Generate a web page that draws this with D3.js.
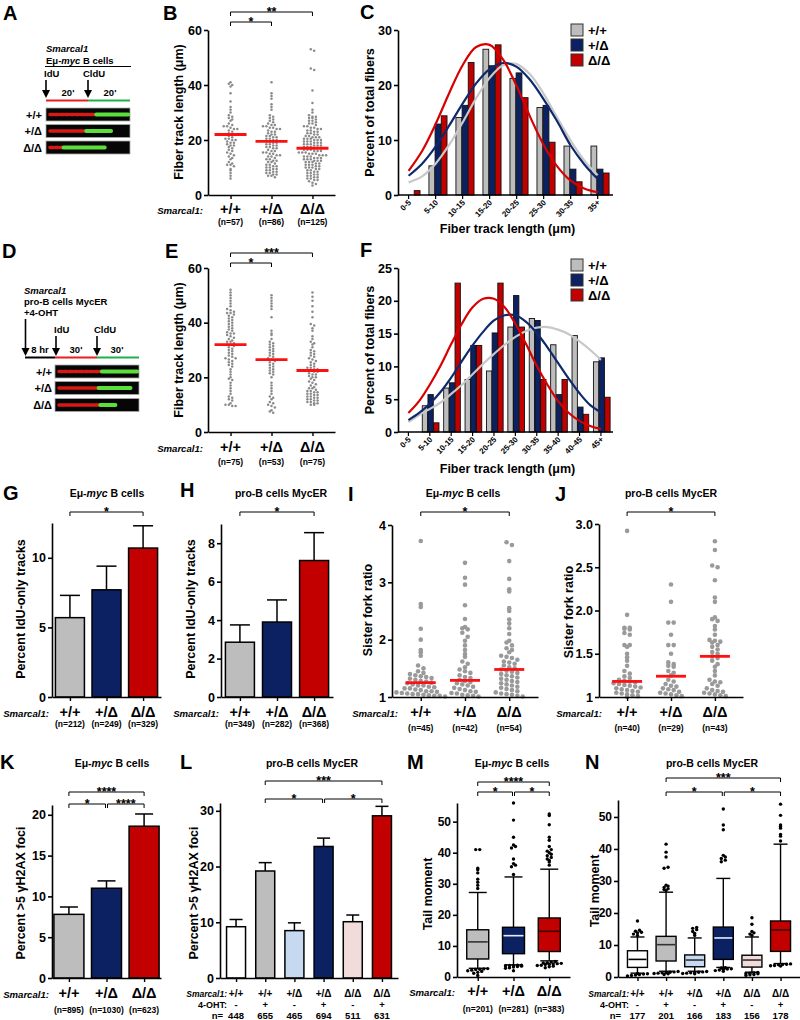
<!DOCTYPE html>
<html><head><meta charset="utf-8">
<script src="https://cdnjs.cloudflare.com/ajax/libs/d3/7.8.5/d3.min.js"></script>
<style>body{margin:0;background:#fff}</style>
</head><body><script>
// ================= DATA =================
const genotypes = ["+/+", "+/Δ", "Δ/Δ"];

// Panel A / D (fiber images: fraction of strip labelled red / green)
const aLabels = ["+/+", "+/Δ", "Δ/Δ"];
const aRedEnd = [0.58, 0.46, 0.19];
const aGreenEnd = [0.98, 0.78, 0.70];
const dLabels = ["+/+", "+/Δ", "Δ/Δ"];
const dRedEnd = [0.54, 0.50, 0.52];
const dGreenEnd = [0.98, 0.90, 0.72];

// Panel B
const bWT = [41,40.5,40,39.5,37,34,32,31,30,29,28.5,28,27.5,27,26,25.5,25,25,24.5,24,23.5,23,22.5,22,21.5,21,20.5,20.5,20,20,19.5,19,19,18.5,18,18,17.5,17,16.5,16,15.5,15,14.5,14,13.5,13,12,11.5,11,11,10.5,9.5,9,8,7,6,24];
const bHet = [41,37,36,35,33,32,31,29,28.5,28,27.5,27,26.5,26,25.5,25.5,25,25,24.5,24.5,24,24,23.5,23,23,22.5,22,22,21.5,21.5,21,21,20.5,20.5,20,20,19.5,19.5,19,19,18.5,18.5,18,18,17.5,17.5,17,17,16.5,16,16,15.5,15.5,15,15,14.5,14.5,14,14,13.5,13,13,12.5,12.5,12,12,11.5,11,11,10.5,10.5,10,10,9.5,9.5,9,9,8.5,8.5,8,8,7.5,7.5,7,7,6.5];
const bKO = [53,52.5,46,45.5,38,33.5,31,30,29,28.5,28.5,28,28,27.5,27,27,26.5,26,26,25.5,25,25,24.5,24.5,24,24,23.5,23.5,23,23,22.5,22.5,22,22,21.5,21.5,21,21,21,20.5,20.5,20.5,20,20,20,19.5,19.5,19.5,19,19,19,18.5,18.5,18.5,18,18,18,17.5,17.5,17.5,17,17,17,16.5,16.5,16.5,16,16,16,15.5,15.5,15.5,15,15,15,14.5,14.5,14.5,14,14,14,13.5,13.5,13.5,13,13,13,12.5,12.5,12.5,12,12,12,11.5,11.5,11,11,11,10.5,10.5,10,10,10,9.5,9.5,9,9,8.5,8.5,8,8,7.5,7.5,7,7,6.5,6.5,6,6,5.5,5.5,5,4.5,4,3.5];
const bMed = [22, 19.5, 17];
const bN = ["(n=57)", "(n=86)", "(n=125)"];
const bTicks = [0, 20, 40, 60];

// Panel C
const cBins = ["0-5","5-10","10-15","15-20","20-25","25-30","30-35","35+"];
const cWT  = [0, 5.3, 14.1, 26.5, 21.2, 15.9, 8.9, 8.9];
const cHet = [0, 12.9, 16.3, 23.5, 22.2, 16.3, 4.7, 4.7];
const cKO  = [0.8, 14.4, 24.1, 27.3, 17.7, 9.6, 2.4, 4.0];
const cFitX = [0,0.5,1,1.5,2,2.5,3,3.5,4,4.5,5,5.5,6,6.5,7];
const cFitWT  = [2.3,3.4,5.7,9.1,13.2,17.6,21.3,23.6,23.8,21.9,18.4,14.1,9.9,6.3,3.6];
const cFitHet = [3.5,5.7,8.8,12.6,16.6,20.3,22.9,24.0,23.3,20.9,17.4,13.4,9.0,5.6,2.9];
const cFitKO  = [4.4,8.0,12.9,18.5,23.6,26.9,27.3,24.6,19.8,14.2,9.1,5.2,2.6,1.2,0.5];
const cTicks = [0, 10, 20, 30];

// Panel E
const eWT = [52,51,50,49,48,47,46,45,44.5,44,43.5,43.5,43,42.5,42,41.5,41,40.5,40,39.5,39,38.5,38,37.5,37,36.5,36,35.5,35,34.5,34,33.5,33,33,32.5,32,32,31.5,31,30.5,30,29.5,29,28.5,28,27.5,27,26.5,26,25.5,25,24.5,24,23,22,21,20,19.5,19,18,17,16,15,14,13,12.5,12,11.5,10.5,10,10,9.5,9.5,27,36];
const eHet = [50,49,48,47,46,45,42,37,36,35.5,34,33,32.5,32,31.5,31,30.5,30,29.5,29,28.5,28,27.5,27,26.5,26,25.5,25,24.5,24,23.5,23,22.5,22,21.5,21,20,18,17,16,15,14,13,12.5,12,11,10.5,10,9.5,9,8,7.5,7];
const eKO = [51,49.5,48,46,44,42,39.5,39,38,37,35,34,33,32.5,32,31,30,29.5,29,28.5,28,27.5,27,26.5,26,25.5,25,24.5,24,23.5,23.5,23,23,22.5,22.5,22,22,21.5,21,21,20.5,20,20,19.5,19,18.5,18,17.5,17,16.5,16,16,15.5,15,15,14.5,14.5,14,14,13.5,13.5,13,13,12.5,12.5,12,12,11.5,11.5,11,11,10.5,10.5,10,10];
const eMed = [32, 26.5, 22.5];
const eN = ["(n=75)", "(n=53)", "(n=75)"];
const eTicks = [0, 20, 40, 60];

// Panel F
const fBins = ["0-5","5-10","10-15","15-20","20-25","25-30","30-35","35-40","40-45","45+"];
const fWT  = [0, 4.0, 6.7, 8.0, 9.3, 16.0, 17.3, 13.3, 14.7, 10.7];
const fHet = [0, 5.7, 7.5, 13.2, 15.1, 20.8, 17.0, 5.7, 3.8, 11.3];
const fKO  = [0, 1.4, 22.7, 13.2, 22.7, 16.0, 8.0, 8.0, 2.7, 5.3];
const fFitX = [0,0.5,1,1.5,2,2.5,3,3.5,4,4.5,5,5.5,6,6.5,7,7.5,8,8.5,9];
const fFitWT  = [1.5,2.6,3.5,4.5,5.8,7.2,8.8,10.4,11.9,13.3,14.5,15.4,15.9,16.0,15.6,14.9,13.8,12.5,11.0];
const fFitHet = [1.8,2.9,4.3,6.1,8.3,10.8,13.2,15.3,17.0,17.8,17.8,16.8,15.1,12.9,10.5,8.1,5.9,4.1,3.0];
const fFitKO  = [2.9,4.7,7.2,10.1,13.4,16.5,19.0,20.3,20.3,19.0,16.5,13.4,10.1,7.2,4.7,2.9,1.7,0.9,0.45];
const fTicks = [0, 5, 10, 15, 20, 25];

// Panel G
const gVal = [5.7, 7.7, 10.7];
const gErr = [1.6, 1.7, 1.6];
const gN = ["(n=212)", "(n=249)", "(n=329)"];
const gTicks = [0, 5, 10];

// Panel H
const hVal = [2.85, 3.9, 7.1];
const hErr = [0.9, 1.15, 1.45];
const hN = ["(n=349)", "(n=282)", "(n=368)"];
const hTicks = [0, 2, 4, 6, 8];

// Panel I
const iWT = [3.72,2.62,2.57,2.19,2.0,1.82,1.78,1.72,1.55,1.5,1.45,1.42,1.4,1.38,1.36,1.35,1.33,1.32,1.3,1.28,1.27,1.25,1.24,1.22,1.2,1.2,1.18,1.17,1.15,1.15,1.13,1.12,1.1,1.1,1.09,1.08,1.07,1.06,1.05,1.05,1.04,1.03,1.02,1.02,1.01];
const iHet = [3.34,3.08,2.96,2.6,2.36,2.22,2.2,2.18,2.12,2.05,1.98,1.9,1.82,1.75,1.7,1.62,1.58,1.52,1.48,1.45,1.42,1.38,1.35,1.33,1.3,1.28,1.26,1.24,1.22,1.2,1.18,1.16,1.14,1.12,1.1,1.09,1.07,1.06,1.04,1.03,1.02,1.01];
const iKO = [3.7,3.65,3.37,3.06,2.88,2.84,2.55,2.5,2.35,2.28,2.2,2.1,1.98,1.95,1.9,1.85,1.82,1.78,1.72,1.7,1.68,1.65,1.62,1.6,1.58,1.55,1.52,1.5,1.48,1.46,1.44,1.42,1.4,1.38,1.36,1.34,1.32,1.3,1.28,1.26,1.24,1.22,1.2,1.18,1.16,1.14,1.12,1.1,1.08,1.06,1.05,1.04,1.02,1.01];
const iMed = [1.25, 1.29, 1.48];
const iN = ["(n=45)", "(n=42)", "(n=54)"];
const iTicks = [1, 2, 3, 4];

// Panel J
const jWT = [2.92,1.95,1.8,1.8,1.79,1.78,1.74,1.72,1.6,1.6,1.58,1.5,1.46,1.42,1.36,1.3,1.27,1.24,1.22,1.2,1.19,1.18,1.17,1.16,1.15,1.14,1.13,1.12,1.11,1.1,1.09,1.08,1.07,1.06,1.05,1.04,1.03,1.02,1.01,1.0];
const jHet = [2.3,2.1,1.86,1.86,1.72,1.6,1.6,1.5,1.4,1.38,1.36,1.35,1.3,1.28,1.25,1.2,1.18,1.15,1.13,1.12,1.1,1.09,1.08,1.06,1.05,1.04,1.03,1.02,1.01];
const jKO = [2.8,2.7,2.52,2.5,2.35,2.15,2.1,1.92,1.9,1.88,1.82,1.78,1.72,1.66,1.65,1.64,1.63,1.6,1.58,1.55,1.52,1.5,1.47,1.45,1.42,1.38,1.35,1.3,1.25,1.2,1.18,1.17,1.15,1.13,1.1,1.08,1.07,1.06,1.05,1.04,1.03,1.02,1.01];
const jMed = [1.18, 1.24, 1.47];
const jN = ["(n=40)", "(n=29)", "(n=43)"];
const jTicks = [1, 1.5, 2, 2.5, 3];

// Panel K
const kVal = [7.8, 11.0, 18.6];
const kErr = [0.9, 0.9, 1.5];
const kN = ["(n=895)", "(n=1030)", "(n=623)"];
const kTicks = [0, 5, 10, 15, 20];

// Panel L
const lGeno = ["+/+", "+/+", "+/Δ", "+/Δ", "Δ/Δ", "Δ/Δ"];
const lOHT = ["-", "+", "-", "+", "-", "+"];
const lVal = [9.2, 19.2, 8.5, 23.6, 10.1, 29.1];
const lErr = [1.3, 1.5, 1.4, 1.5, 1.2, 1.7];
const lN = ["448", "655", "465", "694", "511", "631"];
const lTicks = [0, 10, 20, 30];

// Panel M (box plots)
const mLo  = [2.8, 3.9, 5.2];
const mQ1  = [5.8, 7.5, 8.2];
const mMed = [11.3, 13.3, 14.7];
const mQ3  = [15.2, 16.0, 19.0];
const mHi  = [27.2, 32.2, 34.7];
const mOutHigh = [[28.5,29.5,30.5,31.5,33.5,34.5,35,41,41],
                  [33,35.5,36,36.5,38,41.5,42,42.5,45,50.5,56],
                  [36,37,37.5,38,38.5,39,39.5,40,40.5,41,42,44,45,49,52,52.5]];
const mOutLow = [[0.5,1.2,1.5,1.8,2,2.2,2.4,2.5,2.6,2.7],
                 [2,2.8,3,3.2,3.4,3.5,3.6,3.7,3.7,3.8,3.8],
                 [3,3.3,3.5,3.7,3.8,4,4.1,4.2,4.3,4.4,4.5,4.6,4.8,5]];
const mN = ["(n=201)", "(n=281)", "(n=383)"];
const mTicks = [0, 10, 20, 30, 40, 50];

// Panel N
const nGeno = ["+/+", "+/+", "+/Δ", "+/Δ", "Δ/Δ", "Δ/Δ"];
const nOHT = ["-", "+", "-", "+", "-", "+"];
const nLo  = [1.2, 1.8, 1.8, 3.0, 1.5, 4.2];
const nQ1  = [3.0, 5.0, 3.2, 5.5, 3.1, 8.0];
const nMed = [5.5, 10.1, 5.3, 12.2, 5.3, 14.7];
const nQ3  = [8.2, 12.7, 6.9, 15.6, 6.8, 17.5];
const nHi  = [12.5, 26.5, 12.2, 30.8, 12.5, 41.5];
const nOutHigh = [[13,13.4,13.8,14,14.3,14.6,17.5],
                  [27,27.3,27.6,28,28.4,28.7,34,34.3,37.5,39,41.5],
                  [13,13.6,14.2,14.8,15.2,15.5],
                  [36,36.5,37,37.5,38,46,47.5,52.5],
                  [13,13.4,13.8,14.2,16.5,18.5],
                  [42.5,44,44.5,46.5,47,47.5,50.5,54]];
const nOutLow = [[0.3,0.5,0.6,0.8,0.9,1,1.1],
                 [0.8,1,1.1,1.2,1.3,1.4,1.5,1.6,1.7],
                 [1,1.1,1.2,1.3,1.4,1.5,1.6,1.7],
                 [1.8,2,2.2,2.4,2.5,2.6,2.8,2.9],
                 [0.5,0.7,0.8,1,1.1,1.2,1.3,1.4],
                 [3.4,3.5,3.6,3.8,3.9,4,4.1]];
const nN = ["177", "201", "166", "183", "156", "178"];
const nTicks = [0, 10, 20, 30, 40, 50];

// ================= STYLE =================
const FONT = "'Liberation Sans', Arial, Helvetica, sans-serif";
const GRAY = "#bdbdbd", NAVY = "#0b2161", RED = "#c30000";
const three = [GRAY, NAVY, RED];
const curveCols = ["#c8c8c8", "#0e2a6c", "#d80000"];
const six = ["#ffffff", GRAY, "#c6d9f0", NAVY, "#f2dcdb", RED];
const sixMed = ["#000", "#333", "#333", "#e8eef8", "#333", "#3a0000"];

const svg = d3.select("body").append("svg").attr("width", 800).attr("height", 1020)
  .style("font-family", FONT).style("background", "#fff");

// ================= HELPERS =================
function txt(x, y, s, o = {}) {
  const t = svg.append("text").attr("x", x).attr("y", y).text(s)
    .attr("font-size", o.size || 12).attr("font-weight", o.weight || "bold")
    .attr("text-anchor", o.anchor || "start").attr("fill", o.fill || "#000");
  if (o.italic) t.attr("font-style", "italic");
  return t;
}
function letter(x, y, s) { txt(x, y, s, { size: 20 }); }
function ylabel(cx, cy, s, size = 12.5) {
  svg.append("text").attr("transform", `translate(${cx},${cy}) rotate(-90)`)
    .attr("text-anchor", "middle").attr("dy", "0.36em").attr("font-weight", "bold")
    .attr("font-size", size).text(s);
}
function title(cx, y, kind) {
  const t = svg.append("text").attr("x", cx).attr("y", y).attr("text-anchor", "middle")
    .attr("font-size", 10.5).attr("font-weight", "bold");
  if (kind === "myc") {
    t.append("tspan").text("Eμ-");
    t.append("tspan").attr("font-style", "italic").text("myc");
    t.append("tspan").text(" B cells");
  } else t.text("pro-B cells MycER");
}
function yAxis(scale, x, ticks, fmt, size = 12.5) {
  const g = svg.append("g").attr("transform", `translate(${x},0)`)
    .call(d3.axisLeft(scale).tickValues(ticks).tickFormat(fmt || d3.format("d"))
      .tickSize(4).tickSizeOuter(0).tickPadding(2));
  g.select(".domain").attr("stroke", "#000").attr("stroke-width", 1.6);
  g.selectAll(".tick line").attr("stroke", "#000").attr("stroke-width", 1.6);
  g.selectAll(".tick text").attr("font-size", size).attr("font-weight", "bold")
    .attr("font-family", FONT).attr("fill", "#000");
  return g;
}
function xAxis(scale, y) {
  const g = svg.append("g").attr("transform", `translate(0,${y})`)
    .call(d3.axisBottom(scale).tickSize(4).tickSizeOuter(0).tickFormat(""));
  g.select(".domain").attr("stroke", "#000").attr("stroke-width", 1.6);
  g.selectAll(".tick line").attr("stroke", "#000").attr("stroke-width", 1.4);
  return g;
}
function bracket(x1, x2, y, label, drop = 4) {
  svg.append("path").attr("d", `M${x1},${y + drop}V${y}H${x2}V${y + drop}`)
    .attr("fill", "none").attr("stroke", "#000").attr("stroke-width", 1);
  txt((x1 + x2) / 2, y + 4, label, { size: 12.5, anchor: "middle" });
}
function genoRow(xs, cats, labX, y, size, labelSize) {
  txt(labX, y, "Smarcal1:", { size: labelSize || 9.6, italic: true, anchor: "end" });
  cats.forEach((c, i) => txt(xs(i), y + 0.5, c, { size: size, anchor: "middle" }));
}
function nRow(xs, ns, y, size = 8.5) {
  ns.forEach((c, i) => txt(xs(i), y, c, { size: size, anchor: "middle" }));
}
// dot-plot (swarm) layout: values grouped into pixel rows, spread horizontally
function swarm(values, cx, yScale, r, gap, rowH) {
  const d = 2 * r + gap;
  const rows = d3.group(values, v => Math.round(yScale(v) / rowH));
  const pts = [];
  rows.forEach(arr => {
    arr.forEach((v, i) => pts.push({ x: cx + (i - (arr.length - 1) / 2) * d, y: yScale(v) }));
  });
  return pts;
}
function dotPanel(groups, meds, xs, ys, r, gap, rowH, col, medHalf) {
  groups.forEach((vals, i) => {
    const pts = swarm(vals, xs(i), ys, r, gap, rowH);
    svg.append("g").selectAll("circle").data(pts).join("circle")
      .attr("cx", d => d.x).attr("cy", d => d.y).attr("r", r).attr("fill", col);
    svg.append("line").attr("x1", xs(i) - medHalf).attr("x2", xs(i) + medHalf)
      .attr("y1", ys(meds[i])).attr("y2", ys(meds[i]))
      .attr("stroke", "#ff1010").attr("stroke-width", 2.8);
  });
}
function barPanel(vals, errs, cols, xs, ys, w, capHalf) {
  vals.forEach((v, i) => {
    const cx = xs(i);
    svg.append("line").attr("x1", cx).attr("x2", cx).attr("y1", ys(v)).attr("y2", ys(v + errs[i]))
      .attr("stroke", "#000").attr("stroke-width", 1.5);
    svg.append("line").attr("x1", cx - capHalf).attr("x2", cx + capHalf)
      .attr("y1", ys(v + errs[i])).attr("y2", ys(v + errs[i]))
      .attr("stroke", "#000").attr("stroke-width", 1.5);
    svg.append("rect").attr("x", cx - w / 2).attr("y", ys(v)).attr("width", w)
      .attr("height", ys(0) - ys(v)).attr("fill", cols[i]).attr("stroke", "#000").attr("stroke-width", 1.5);
  });
}
function boxPanel(lo, q1, med, q3, hi, outH, outL, cols, medCols, xs, ys, w, capHalf) {
  lo.forEach((_, i) => {
    const cx = xs(i);
    const g = svg.append("g");
    g.append("line").attr("x1", cx).attr("x2", cx).attr("y1", ys(hi[i])).attr("y2", ys(lo[i]))
      .attr("stroke", "#000").attr("stroke-width", 1.4);
    [hi[i], lo[i]].forEach(v => g.append("line").attr("x1", cx - capHalf).attr("x2", cx + capHalf)
      .attr("y1", ys(v)).attr("y2", ys(v)).attr("stroke", "#000").attr("stroke-width", 1.4));
    g.append("rect").attr("x", cx - w / 2).attr("y", ys(q3[i])).attr("width", w)
      .attr("height", ys(q1[i]) - ys(q3[i])).attr("fill", cols[i]).attr("stroke", "#000").attr("stroke-width", 1.4);
    g.append("line").attr("x1", cx - w / 2 + 1).attr("x2", cx + w / 2 - 1)
      .attr("y1", ys(med[i])).attr("y2", ys(med[i])).attr("stroke", medCols[i]).attr("stroke-width", 1.6);
    const pts = swarm(outH[i].concat(outL[i]), cx, ys, 1.7, 0.6, 2.6);
    g.selectAll("circle").data(pts).join("circle").attr("cx", d => d.x).attr("cy", d => d.y)
      .attr("r", 1.7).attr("fill", "#000");
  });
}
function histPanel(bins, series, fitX, fits, x0, xEnd, y0, y1, ymax, ticks, titleY, legY) {
  const ys = d3.scaleLinear().domain([0, ymax]).range([y0, y1]);
  const n = bins.length;
  const xb = d3.scaleBand().domain(bins).range([x0, xEnd]).paddingInner(n === 8 ? 0.33 : 0.22).paddingOuter(n === 8 ? 0.145 : 0.135);
  const sub = d3.scaleBand().domain([0, 1, 2]).range([0, xb.bandwidth()]).paddingInner(0.06);
  const tickOff = xb.bandwidth() * (n === 8 ? 0.37 : 0.45);
  series.forEach((vals, s) => {
    svg.append("g").selectAll("rect").data(vals.map((v, i) => ({ v, b: bins[i] })).filter(d => d.v > 0))
      .join("rect").attr("x", d => xb(d.b) + sub(s)).attr("width", sub.bandwidth())
      .attr("y", d => ys(d.v)).attr("height", d => y0 - ys(d.v))
      .attr("fill", three[s]).attr("stroke", "#111").attr("stroke-width", 0.9);
  });
  const xc = d3.scaleLinear().domain([0, n - 1]).range([xb(bins[0]) + tickOff, xb(bins[n - 1]) + tickOff]);
  const line = d3.line().x(d => xc(d[0])).y(d => ys(d[1])).curve(d3.curveCatmullRom);
  fits.forEach((f, s) => {
    svg.append("path").attr("d", line(fitX.map((x, i) => [x, f[i]]))).attr("fill", "none")
      .attr("stroke", curveCols[s]).attr("stroke-width", 2.2);
  });
  yAxis(ys, x0, ticks);
  svg.append("line").attr("x1", x0).attr("x2", xEnd).attr("y1", y0).attr("y2", y0)
    .attr("stroke", "#000").attr("stroke-width", 1.6);
  bins.forEach(b => {
    const tx = xb(b) + tickOff;
    svg.append("line").attr("x1", tx).attr("x2", tx).attr("y1", y0).attr("y2", y0 + 4)
      .attr("stroke", "#000").attr("stroke-width", 1.2);
    svg.append("text").attr("transform", `translate(${tx + 3},${y0 + 8}) rotate(-45)`)
      .attr("text-anchor", "end").attr("font-size", 8).attr("font-weight", "bold").text(b);
  });
  txt((x0 + xEnd) / 2 + 2, titleY, "Fiber track length (μm)", { size: 12.5, anchor: "middle" });
  ylabel(369, (y0 + y1) / 2, "Percent of total fibers");
  genotypes.forEach((gname, i) => {
    svg.append("rect").attr("x", 571).attr("y", legY + i * 15).attr("width", 12).attr("height", 12)
      .attr("fill", three[i]).attr("stroke", "#333").attr("stroke-width", 1);
    txt(588, legY + i * 15 + 11, gname, { size: 13 });
  });
}
function fiberPanel(labels, redEnd, greenEnd, x, w, ys, h, labX) {
  labels.forEach((l, i) => {
    const y = ys[i], cy = y + h / 2;
    svg.append("rect").attr("x", x).attr("y", y).attr("width", w).attr("height", h)
      .attr("fill", "#060606").attr("stroke", "#aaa").attr("stroke-width", 0.8);
    // speckled red then green fluorescent track
    svg.append("line").attr("x1", x + 4).attr("x2", x + w * redEnd[i]).attr("y1", cy).attr("y2", cy)
      .attr("stroke", "#d91a14").attr("stroke-width", 3.6).attr("stroke-linecap", "round")
      .attr("stroke-dasharray", "3.5 1.6");
    svg.append("line").attr("x1", x + w * redEnd[i] + 1.5).attr("x2", x + w * greenEnd[i]).attr("y1", cy).attr("y2", cy)
      .attr("stroke", "#5be03a").attr("stroke-width", 3.8).attr("stroke-linecap", "round")
      .attr("stroke-dasharray", "3 1.4");
    txt(labX, cy + 4, l, { size: 11, anchor: "end" });
  });
}
function arrow(x, yTop, yBot) {
  svg.append("line").attr("x1", x).attr("x2", x).attr("y1", yTop).attr("y2", yBot - 6)
    .attr("stroke", "#000").attr("stroke-width", 1.6);
  svg.append("path").attr("d", `M${x - 4},${yBot - 8}L${x + 4},${yBot - 8}L${x},${yBot}Z`).attr("fill", "#000");
}

// ================= PANEL A =================
letter(3, 20, "A");
txt(46, 52, "Smarcal1", { size: 9.5, italic: true });
(function () {
  const t = svg.append("text").attr("x", 46).attr("y", 63.5).attr("font-size", 9.5).attr("font-weight", "bold");
  t.append("tspan").text("Eμ-"); t.append("tspan").attr("font-style", "italic").text("myc");
  t.append("tspan").text(" B cells");
})();
svg.append("line").attr("x1", 45).attr("x2", 131).attr("y1", 66.5).attr("y2", 66.5).attr("stroke", "#000").attr("stroke-width", 1);
txt(44, 77, "IdU", { size: 9.5 }); txt(83, 77, "CldU", { size: 9.5 });
arrow(46, 80, 98); arrow(88, 80, 98);
txt(68, 96, "20'", { size: 9.5, anchor: "middle" }); txt(110, 96, "20'", { size: 9.5, anchor: "middle" });
svg.append("line").attr("x1", 46).attr("x2", 88).attr("y1", 100.5).attr("y2", 100.5).attr("stroke", "#ee1c1c").attr("stroke-width", 2);
svg.append("line").attr("x1", 88).attr("x2", 130).attr("y1", 100.5).attr("y2", 100.5).attr("stroke", "#20b04a").attr("stroke-width", 2);
fiberPanel(aLabels, aRedEnd, aGreenEnd, 46, 84, [108, 124.5, 141], 13, 42);

// ================= PANEL D =================
letter(2, 258, "D");
txt(24, 294, "Smarcal1", { size: 9.5, italic: true });
txt(24, 305, "pro-B cells MycER", { size: 9.5 });
txt(24, 316, "+4-OHT", { size: 9.5 });
arrow(25.5, 319, 356);
txt(54, 333, "IdU", { size: 9.5 }); txt(94, 333, "CldU", { size: 9.5 });
arrow(56, 336, 356); arrow(97, 336, 356);
txt(40, 353, "8 hr", { size: 9.5, anchor: "middle" });
txt(76, 353, "30'", { size: 9.5, anchor: "middle" }); txt(117, 353, "30'", { size: 9.5, anchor: "middle" });
svg.append("line").attr("x1", 25).attr("x2", 55).attr("y1", 357.5).attr("y2", 357.5).attr("stroke", "#000").attr("stroke-width", 2);
svg.append("line").attr("x1", 55).attr("x2", 97).attr("y1", 357.5).attr("y2", 357.5).attr("stroke", "#ee1c1c").attr("stroke-width", 2);
svg.append("line").attr("x1", 97).attr("x2", 139).attr("y1", 357.5).attr("y2", 357.5).attr("stroke", "#20b04a").attr("stroke-width", 2);
fiberPanel(dLabels, dRedEnd, dGreenEnd, 55, 84, [365, 381.5, 398.5], 13, 52);

// ================= PANEL B =================
letter(163, 20, "B");
{
  const ys = d3.scaleLinear().domain([0, 60]).range([195, 30]);
  const xs = d3.scalePoint().domain([0, 1, 2]).range([208, 335]).padding(0.55);
  dotPanel([bWT, bHet, bKO], bMed, xs, ys, 1.25, 0.9, 2.9, "#8a8a8a", 16);
  yAxis(ys, 208, bTicks); xAxis(xs, 195);
  bracket(xs(0), xs(2), 12, "**"); bracket(xs(0), xs(1), 22, "*");
  genoRow(xs, genotypes, 203, 213.5, 14.5);
  nRow(xs, bN, 225);
  ylabel(178, 112, "Fiber track length (μm)");
}

// ================= PANEL C =================
letter(360, 19, "C");
histPanel(cBins, [cWT, cHet, cKO], cFitX, [cFitWT, cFitHet, cFitKO], 398, 613, 195, 30, 30, cTicks, 233, 24);

// ================= PANEL E =================
letter(165, 258, "E");
{
  const ys = d3.scaleLinear().domain([0, 60]).range([432, 268]);
  const xs = d3.scalePoint().domain([0, 1, 2]).range([208, 335]).padding(0.55);
  dotPanel([eWT, eHet, eKO], eMed, xs, ys, 1.25, 0.9, 2.9, "#8a8a8a", 16);
  yAxis(ys, 208, eTicks); xAxis(xs, 432);
  bracket(xs(0), xs(2), 253, "***"); bracket(xs(0), xs(1), 263, "*");
  genoRow(xs, genotypes, 203, 451.5, 14.5);
  nRow(xs, eN, 465);
  ylabel(178, 350, "Fiber track length (μm)");
}

// ================= PANEL F =================
letter(360, 257, "F");
histPanel(fBins, [fWT, fHet, fKO], fFitX, [fFitWT, fFitHet, fFitKO], 398, 613, 432, 268, 25, fTicks, 473, 259);

// ================= PANEL G =================
letter(3, 500, "G");
title(107, 497, "myc");
{
  const ys = d3.scaleLinear().domain([0, 12.5]).range([697, 523]);
  const xs = d3.scalePoint().domain([0, 1, 2]).range([52, 161]).padding(0.49);
  barPanel(gVal, gErr, three, xs, ys, 29, 10);
  yAxis(ys, 52, gTicks); xAxis(xs, 697);
  bracket(xs(0), xs(2), 512, "*");
  genoRow(xs, genotypes, 49, 716.5, 14.5);
  nRow(xs, gN, 727);
  ylabel(20, 609, "Percent IdU-only tracks");
}

// ================= PANEL H =================
letter(180, 497, "H");
title(281, 497, "pro");
{
  const ys = d3.scaleLinear().domain([0, 9.0]).range([697, 524]);
  const xs = d3.scalePoint().domain([0, 1, 2]).range([221, 333]).padding(0.51);
  barPanel(hVal, hErr, three, xs, ys, 29, 10);
  yAxis(ys, 221, hTicks); xAxis(xs, 697);
  bracket(xs(0), xs(2), 512, "*");
  genoRow(xs, genotypes, 219, 716.5, 14.5);
  nRow(xs, hN, 727);
  ylabel(190, 609, "Percent IdU-only tracks");
}

// ================= PANEL I =================
letter(348, 501, "I");
title(463, 497, "myc");
{
  const ys = d3.scaleLinear().domain([1, 4]).range([697, 525]);
  const xs = d3.scalePoint().domain([0, 1, 2]).range([392, 538]).padding(0.65);
  dotPanel([iWT, iHet, iKO], iMed, xs, ys, 2.3, 0.8, 4.6, "#9a9a9a", 15);
  yAxis(ys, 392, iTicks); xAxis(xs, 697);
  bracket(xs(0), xs(2), 512, "*");
  genoRow(xs, genotypes, 398, 716.5, 14.5);
  nRow(xs, iN, 731);
  ylabel(367, 610, "Sister fork ratio");
}

// ================= PANEL J =================
letter(555, 501, "J");
title(671, 497, "pro");
{
  const ys = d3.scaleLinear().domain([1, 3]).range([697, 524]);
  const xs = d3.scalePoint().domain([0, 1, 2]).range([599, 743]).padding(0.64);
  dotPanel([jWT, jHet, jKO], jMed, xs, ys, 2.3, 0.8, 4.6, "#9a9a9a", 15);
  yAxis(ys, 599, jTicks, d => d === 1 ? "1" : d3.format(".1f")(d)); xAxis(xs, 697);
  bracket(xs(0), xs(2), 512, "*");
  genoRow(xs, genotypes, 602, 716.5, 14.5);
  nRow(xs, jN, 731);
  ylabel(568, 612, "Sister fork ratio");
}

// ================= PANEL K =================
letter(0, 769, "K");
title(112, 767, "myc");
{
  const ys = d3.scaleLinear().domain([0, 21.2]).range([978, 805]);
  const xs = d3.scalePoint().domain([0, 1, 2]).range([52, 161]).padding(0.45);
  barPanel(kVal, kErr, three, xs, ys, 30, 9);
  yAxis(ys, 52, kTicks); xAxis(xs, 978);
  bracket(xs(0), xs(2), 792, "****");
  bracket(xs(0), xs(1) - 1, 804, "*"); bracket(xs(1) + 1, xs(2), 804, "****");
  genoRow(xs, genotypes, 49, 997.5, 14.5);
  nRow(xs, kN, 1013);
  ylabel(20, 893, "Percent >5 γH2AX foci");
}

// ================= PANEL L =================
letter(180, 769, "L");
title(312, 767, "pro");
{
  const ys = d3.scaleLinear().domain([0, 31.4]).range([978, 803]);
  const xs = d3.scalePoint().domain(d3.range(6)).range([220, 398]).padding(0.55);
  barPanel(lVal, lErr, six, xs, ys, 19, 6.5);
  yAxis(ys, 220, lTicks); xAxis(xs, 978);
  bracket(xs(1), xs(5), 781, "***");
  bracket(xs(1), xs(3) - 1, 799, "*"); bracket(xs(3) + 1, xs(5), 799, "*");
  txt(227, 997, "Smarcal1:", { size: 8.5, italic: true, anchor: "end" });
  lGeno.forEach((c, i) => txt(xs(i), 997, c, { size: 10, anchor: "middle" }));
  txt(227, 1008, "4-OHT:", { size: 9, anchor: "end" });
  lOHT.forEach((c, i) => txt(xs(i), 1008, c, { size: 9.5, anchor: "middle" }));
  txt(223, 1019, "n=", { size: 9.5, anchor: "end" });
  lN.forEach((c, i) => txt(xs(i), 1019, c, { size: 9.5, anchor: "middle" }));
  ylabel(193, 893, "Percent >5 γH2AX foci");
}

// ================= PANEL M =================
letter(407, 769, "M");
title(512, 767, "myc");
{
  const ys = d3.scaleLinear().domain([0, 56]).range([977, 803]);
  const xs = d3.scalePoint().domain([0, 1, 2]).range([457, 570]).padding(0.58);
  boxPanel(mLo, mQ1, mMed, mQ3, mHi, mOutHigh, mOutLow, three, ["#333", "#e8eef8", "#3a0000"], xs, ys, 22, 9);
  yAxis(ys, 457, mTicks, null, 12); xAxis(xs, 977);
  bracket(xs(0), xs(2), 782, "****");
  bracket(xs(0), xs(1) - 1, 792, "*"); bracket(xs(1) + 1, xs(2), 792, "*");
  genoRow(xs, genotypes, 455, 995.5, 14.5);
  nRow(xs, mN, 1012);
  ylabel(427, 894, "Tail moment");
}

// ================= PANEL N =================
letter(585, 769, "N");
title(712, 767, "pro");
{
  const ys = d3.scaleLinear().domain([0, 55.3]).range([977, 800]);
  const xs = d3.scalePoint().domain(d3.range(6)).range([618, 800]).padding(0.68);
  boxPanel(nLo, nQ1, nMed, nQ3, nHi, nOutHigh, nOutLow, six, sixMed, xs, ys, 20, 7);
  yAxis(ys, 618, nTicks, null, 12); xAxis(xs, 977);
  bracket(xs(1), xs(5), 778, "***");
  bracket(xs(1), xs(3) - 1, 792, "*"); bracket(xs(3) + 1, xs(5), 792, "*");
  txt(629, 997, "Smarcal1:", { size: 8.5, italic: true, anchor: "end" });
  nGeno.forEach((c, i) => txt(xs(i), 997, c, { size: 10, anchor: "middle" }));
  txt(629, 1008, "4-OHT:", { size: 9, anchor: "end" });
  nOHT.forEach((c, i) => txt(xs(i), 1008, c, { size: 9.5, anchor: "middle" }));
  txt(621, 1019, "n=", { size: 9.5, anchor: "end" });
  nN.forEach((c, i) => txt(xs(i), 1019, c, { size: 9.5, anchor: "middle" }));
  ylabel(594, 891, "Tail moment");
}
</script></body></html>
